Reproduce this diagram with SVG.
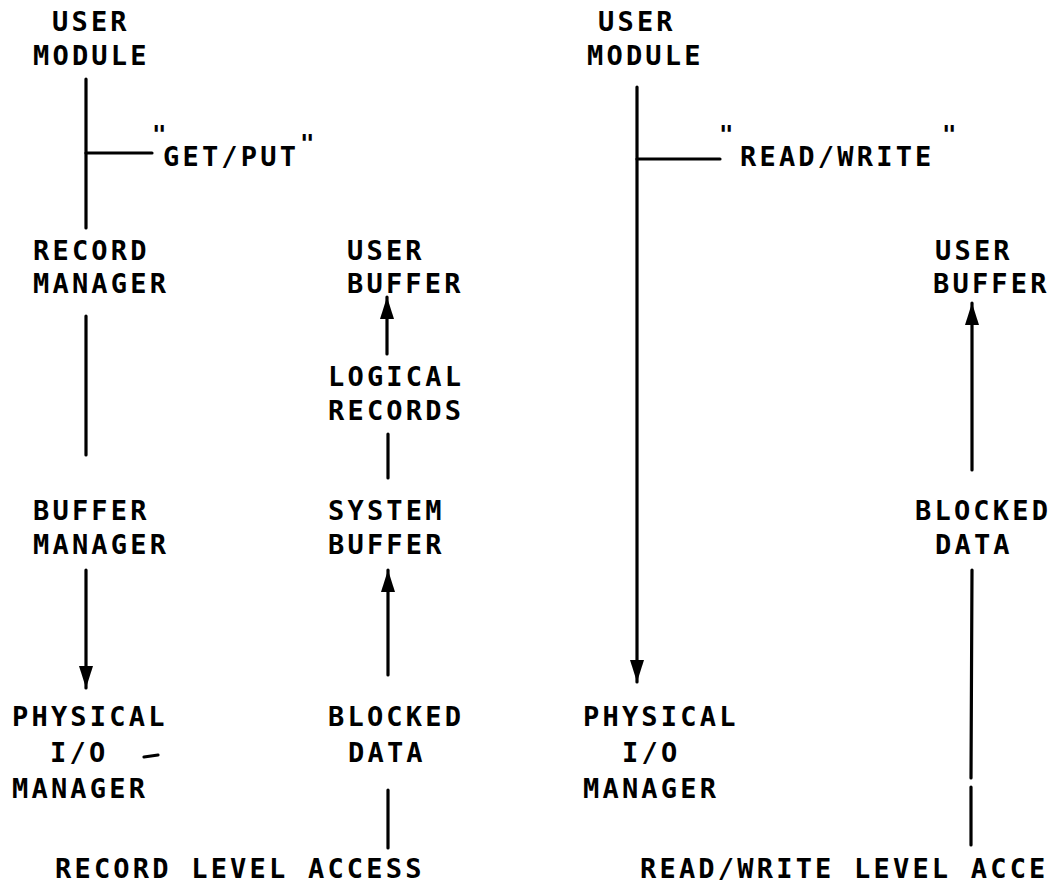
<svg xmlns="http://www.w3.org/2000/svg" width="1064" height="882" viewBox="0 0 1064 882">
<style>
  text { font-family: "DejaVu Sans Mono", "Liberation Mono", monospace; font-size: 27px; font-weight: bold; letter-spacing: 3.2px; fill: #000; }
  .q { font-size: 24px; letter-spacing: 0; }
  .ln { stroke: #000; stroke-width: 3.2; fill: none; stroke-linecap: round; }
</style>
<defs>
  <marker id="ah" viewBox="0 0 22 14" refX="22" refY="7" markerWidth="22" markerHeight="14" markerUnits="userSpaceOnUse" orient="auto">
    <path d="M0,0 L22,7 L0,14 z" fill="#000"/>
  </marker>
</defs>
<rect width="1064" height="882" fill="#fff"/>

<g id="connectors">
  <line class="ln" x1="86" y1="79" x2="86" y2="228"/>
  <line class="ln" x1="86" y1="153" x2="152" y2="153"/>
  <line class="ln" x1="86" y1="316" x2="86" y2="455"/>
  <line class="ln" x1="86" y1="570" x2="86" y2="688" marker-end="url(#ah)"/>
  <line class="ln" x1="387" y1="354" x2="387" y2="297" marker-end="url(#ah)"/>
  <line class="ln" x1="388" y1="434" x2="388" y2="478"/>
  <line class="ln" x1="388" y1="675" x2="388" y2="570" marker-end="url(#ah)"/>
  <line class="ln" x1="388" y1="790" x2="388" y2="848"/>
  <line class="ln" x1="637" y1="87" x2="637" y2="682" marker-end="url(#ah)"/>
  <line class="ln" x1="637" y1="159" x2="720" y2="159"/>
  <line class="ln" x1="972" y1="470" x2="972" y2="303" marker-end="url(#ah)"/>
  <line class="ln" x1="972" y1="570" x2="971" y2="778"/>
  <line class="ln" x1="971" y1="787" x2="971" y2="845"/>
  <line class="ln" x1="144" y1="757" x2="158" y2="755" stroke-width="2"/>
</g>

<g id="user-module-left"><text x="52" y="31">USER</text><text x="33" y="65">MODULE</text></g>
<g id="get-put-label"><text class="q" x="152" y="143">"</text><text x="163" y="166">GET/PUT</text><text class="q" x="300" y="152">"</text></g>
<g id="record-manager"><text x="33" y="260">RECORD</text><text x="33" y="293">MANAGER</text></g>
<g id="buffer-manager"><text x="33" y="520">BUFFER</text><text x="33" y="554">MANAGER</text></g>
<g id="physical-io-left"><text x="12" y="726">PHYSICAL</text><text x="50" y="762">I/O</text><text x="12" y="798">MANAGER</text></g>

<g id="user-buffer-mid"><text x="347" y="260">USER</text><text x="347" y="293">BUFFER</text></g>
<g id="logical-records"><text x="328" y="386">LOGICAL</text><text x="328" y="420">RECORDS</text></g>
<g id="system-buffer"><text x="328" y="520">SYSTEM</text><text x="328" y="554">BUFFER</text></g>
<g id="blocked-data-mid"><text x="328" y="726">BLOCKED</text><text x="348" y="762">DATA</text></g>
<g id="caption-left"><text x="55" y="878">RECORD LEVEL ACCESS</text></g>

<g id="user-module-right"><text x="598" y="31">USER</text><text x="587" y="65">MODULE</text></g>
<g id="read-write-label"><text class="q" x="719" y="143">"</text><text x="740" y="166">READ/WRITE</text><text class="q" x="942" y="143">"</text></g>
<g id="user-buffer-right"><text x="935" y="260">USER</text><text x="933" y="293">BUFFER</text></g>
<g id="blocked-data-right"><text x="915" y="520">BLOCKED</text><text x="935" y="554">DATA</text></g>
<g id="physical-io-right"><text x="583" y="726">PHYSICAL</text><text x="622" y="762">I/O</text><text x="583" y="798">MANAGER</text></g>
<g id="caption-right"><text x="640" y="878">READ/WRITE LEVEL ACCE</text></g>
</svg>
